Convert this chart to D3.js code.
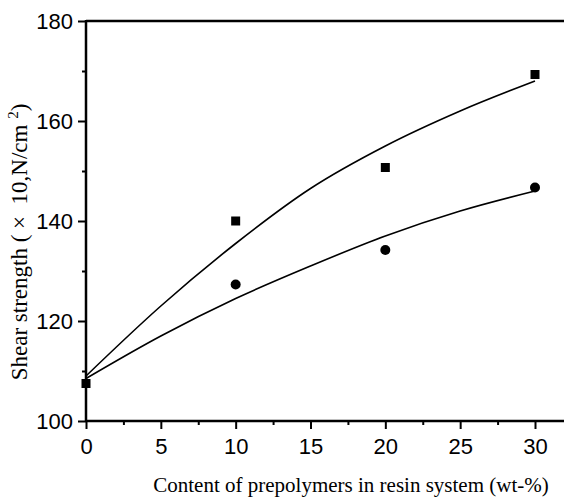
<!DOCTYPE html>
<html>
<head>
<meta charset="utf-8">
<script src="https://cdn.jsdelivr.net/npm/d3@7"></script>
<style>
  body { margin: 0; background: #fff; }
  svg { display: block; }
</style>
</head>
<body>
<div id="chart"></div>
<script>
// data
const xTicks = [0, 5, 10, 15, 20, 25, 30];
const yTicks = [100, 120, 140, 160, 180];

const squareX = [0, 10, 20, 30];
const squareY = [107.5, 140, 150.7, 169.3];
const circleX = [10, 20, 30];
const circleY = [127.3, 134.2, 146.7];

// fitted curves
const fitX = [0, 5, 10, 15, 20, 25, 30];
const upperFit = [109, 123, 135.5, 146.5, 155, 162, 168];
const lowerFit = [108.5, 117, 124.5, 131, 137, 142, 146];

const width = 564, height = 499;
const margin = { top: 21, right: 0, bottom: 78, left: 86 };

const svg = d3.select('#chart').append('svg')
  .attr('width', width)
  .attr('height', height);

const x = d3.scaleLinear().domain([0, 30]).range([margin.left, 535]);
const y = d3.scaleLinear().domain([100, 180]).range([height - margin.bottom, margin.top]);

// Ejes
const xAxis = svg.append('g')
  .attr('transform', `translate(0,${y(100)})`)
  .call(d3.axisBottom(x).tickValues(xTicks).tickSize(8).tickPadding(9).tickFormat(d3.format('d')));
const xMinor = svg.append('g')
  .attr('transform', `translate(0,${y(100)})`)
  .call(d3.axisBottom(x).tickValues(d3.range(2.5, 32, 5)).tickSize(4).tickFormat(''));

const yAxis = svg.append('g')
  .attr('transform', `translate(${x(0)},0)`)
  .call(d3.axisLeft(y).tickValues(yTicks).tickSize(8).tickPadding(5));
const yMinor = svg.append('g')
  .attr('transform', `translate(${x(0)},0)`)
  .call(d3.axisLeft(y).tickValues([110, 130, 150, 170]).tickSize(4).tickFormat(''));

[xAxis, xMinor, yAxis, yMinor].forEach(g => {
  g.select('.domain').remove();
  g.selectAll('line').attr('stroke', '#000').attr('stroke-width', 2);
  g.selectAll('text')
    .attr('fill', '#000')
    .attr('font-family', 'Liberation Sans, Arial, sans-serif')
    .attr('font-size', '22px');
});

// axis lines (left, bottom, top)
svg.append('line')
  .attr('x1', x(0)).attr('x2', x(0))
  .attr('y1', y(180) - 1).attr('y2', y(100) + 1)
  .attr('stroke', '#000').attr('stroke-width', 2.5);
svg.append('line')
  .attr('x1', x(0)).attr('x2', width)
  .attr('y1', y(100)).attr('y2', y(100))
  .attr('stroke', '#000').attr('stroke-width', 2.5);
svg.append('line')
  .attr('x1', x(0)).attr('x2', width)
  .attr('y1', y(180)).attr('y2', y(180))
  .attr('stroke', '#000').attr('stroke-width', 2.5);

// Curvas
const line = d3.line()
  .x((d, i) => x(fitX[i]))
  .y(d => y(d))
  .curve(d3.curveMonotoneX);

[upperFit, lowerFit].forEach(s => {
  svg.append('path')
    .datum(s)
    .attr('d', line)
    .attr('fill', 'none')
    .attr('stroke', '#000')
    .attr('stroke-width', 1.6);
});

// Puntos
svg.selectAll('.sq')
  .data(squareX)
  .enter()
  .append('rect')
  .attr('x', d => x(d) - 4.5)
  .attr('y', (d, i) => y(squareY[i]) - 4.5)
  .attr('width', 9)
  .attr('height', 9)
  .attr('fill', '#000');

svg.selectAll('.ci')
  .data(circleX)
  .enter()
  .append('circle')
  .attr('cx', d => x(d))
  .attr('cy', (d, i) => y(circleY[i]))
  .attr('r', 5)
  .attr('fill', '#000');

// Etiquetas de ejes
svg.append('text')
  .attr('x', 351)
  .attr('y', 492)
  .attr('text-anchor', 'middle')
  .attr('font-family', 'Liberation Serif, Times New Roman, serif')
  .attr('font-size', '21px')
  .text('Content of prepolymers in resin system (wt-%)');

const yTitle = svg.append('text')
  .attr('transform', 'translate(27,242) rotate(-90)')
  .attr('text-anchor', 'middle')
  .attr('font-family', 'Liberation Serif, Times New Roman, serif')
  .attr('font-size', '23px')
  .style('white-space', 'pre');
yTitle.append('tspan').text('Shear strength ( \u00d7  10,N/cm ');
yTitle.append('tspan').attr('dy', -9).attr('font-size', '15px').text('2');
yTitle.append('tspan').attr('dy', 9).text(')');
</script>
</body>
</html>
